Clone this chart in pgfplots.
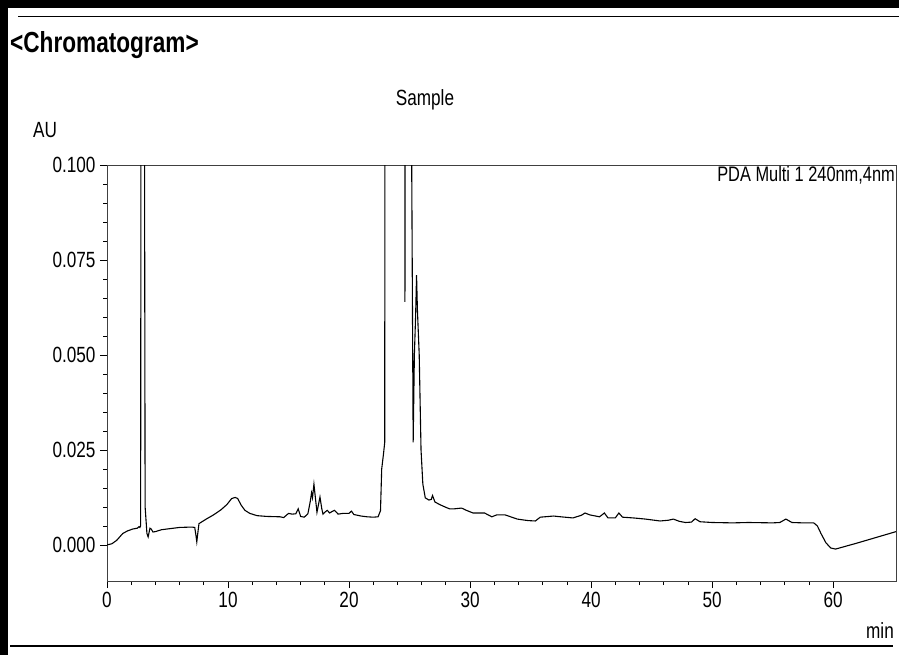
\documentclass[border=0pt]{standalone}
\usepackage{fontspec}
\setmainfont{Liberation Sans}[FakeStretch=0.78]
\usepackage{pgfplots}
\pgfplotsset{compat=1.18}
\pgfplotstableread{
x y
0 0.0000
0.4 0.0003
0.8 0.0012
1.3 0.0030
1.7 0.0037
2.15 0.0042
2.5 0.0044
2.65 0.0048
2.72 0.0046
2.78 0.0050
2.85 0.3
3.0 0.3
3.15 0.010
3.3 0.0030
3.4 0.0021
3.55 0.0044
3.65 0.0042
3.8 0.0034
4.0 0.0035
4.5 0.0040
5.0 0.0042
6.0 0.0046
7.0 0.0047
7.25 0.0046
7.35 0.0025
7.42 0.0008
7.5 0.0030
7.6 0.0056
8.2 0.0068
8.8 0.0079
9.4 0.0092
9.9 0.0106
10.3 0.0122
10.6 0.0125
10.8 0.0122
11.1 0.0104
11.4 0.0091
11.8 0.0083
12.4 0.0077
13.2 0.0075
14.3 0.0074
14.6 0.0072
15.0 0.0083
15.3 0.0081
15.6 0.0082
15.8 0.0095
16.0 0.0075
16.3 0.0073
16.6 0.0082
16.8 0.0115
16.9 0.0137
16.98 0.0124
17.1 0.0160
17.2 0.0130
17.35 0.0086
17.5 0.0110
17.6 0.0126
17.75 0.0095
17.85 0.0081
18.0 0.0086
18.2 0.0091
18.4 0.0084
18.6 0.0088
18.8 0.0091
19.1 0.0081
19.5 0.0083
20.0 0.0083
20.2 0.0089
20.4 0.0080
21.0 0.0076
21.5 0.0074
22.0 0.0073
22.4 0.0074
22.6 0.0090
22.7 0.0200
22.85 0.0240
22.95 0.0270
23.0 0.3
24.55 0.3
24.62 0.064
24.7 0.3
24.85 0.3
25.3 0.027
25.4 0.050
25.5 0.060
25.58 0.071
25.65 0.062
25.8 0.050
25.95 0.025
26.1 0.016
26.3 0.0124
26.6 0.0118
26.8 0.0120
26.9 0.0130
27.1 0.0113
27.5 0.0106
28.0 0.0099
28.3 0.0095
28.7 0.0095
29.3 0.0097
29.7 0.0091
30.25 0.0084
31.2 0.0084
31.8 0.0074
32.2 0.0079
32.9 0.0079
33.9 0.0068
34.8 0.0064
35.4 0.0063
35.8 0.0073
36.9 0.0076
37.5 0.0074
38.5 0.0071
39.2 0.0078
39.5 0.0084
39.9 0.0079
40.7 0.0074
41.1 0.0084
41.4 0.0071
42.0 0.0071
42.3 0.0084
42.6 0.0073
43.5 0.0071
44.5 0.0068
45.7 0.0063
46.4 0.0065
46.8 0.0068
47.3 0.0062
47.8 0.0059
48.3 0.0060
48.6 0.0069
49.0 0.0061
50.0 0.0059
51.7 0.0058
53.0 0.0059
55.0 0.0058
55.6 0.0059
56.1 0.0068
56.6 0.0059
57.5 0.0058
58.4 0.0058
58.7 0.0050
59.0 0.0030
59.4 0.0006
59.8 -0.0008
60.2 -0.0011
62.0 0.0005
65.2 0.0035
}\chrom
\begin{document}
\begin{tikzpicture}
\path[use as bounding box] (0pt,0pt) rectangle (899pt,-655pt);
\fill[black] (0pt,0pt) rectangle (8pt,-655pt);
\fill[black] (0pt,0pt) rectangle (899pt,-8pt);
\draw[line width=1pt] (18pt,-17pt) -- (899pt,-17pt);
\draw[line width=1.2pt] (10pt,-646pt) -- (893pt,-646pt);
\node[anchor=west, inner sep=0pt, font=\bfseries\fontsize{29}{31}\selectfont] at (10pt,-45pt) {<Chromatogram>};
\node[inner sep=0pt, font=\fontsize{22}{24}\selectfont] at (425pt,-100pt) {Sample};
\node[inner sep=0pt, font=\fontsize{22}{24}\selectfont] at (45pt,-130pt) {AU};
\node[anchor=east, inner sep=0pt, font=\fontsize{22}{24}\selectfont] at (894pt,-631pt) {min};
\begin{axis}[
  at={(107pt,-581pt)}, anchor=south west,
  scale only axis, width=789pt, height=416pt,
  xmin=0, xmax=65.2, ymin=-0.0095, ymax=0.1,
  xtick={0,10,20,30,40,50,60},
  ytick={0,0.025,0.05,0.075,0.1},
  yticklabels={0.000,0.025,0.050,0.075,0.100},
  minor x tick num=4, minor y tick num=4,
  xtick pos=bottom, ytick pos=left,
  tick align=outside,
  major tick length=7pt, minor tick length=4pt,
  tick style={black, line width=0.7pt},
  axis line style={black!75, line width=0.7pt},
  /pgf/number format/assume math mode=true,
  tick label style={font=\fontsize{22}{24}\selectfont},
  xticklabel style={yshift=-1pt},
  yticklabel style={xshift=-1pt},
]
\addplot[black, line width=1.1pt] table[x=x,y=y] {\chrom};
\node[anchor=north east, inner sep=1pt, font=\fontsize{21}{23}\selectfont] at (rel axis cs:1,1) {PDA Multi 1 240nm,4nm};
\end{axis}
\end{tikzpicture}
\end{document}
